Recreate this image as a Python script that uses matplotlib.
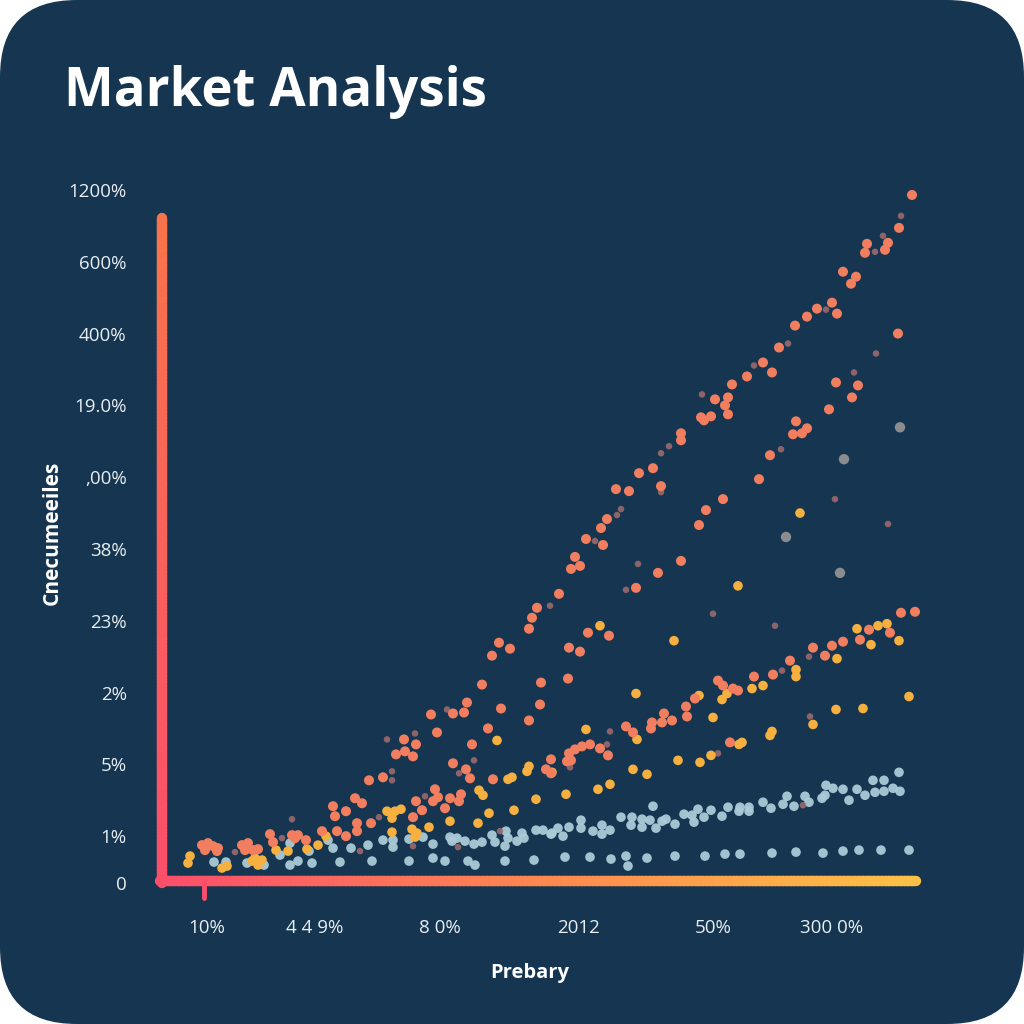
import numpy as np
import matplotlib
matplotlib.use("Agg")
import matplotlib.pyplot as plt
from matplotlib.patches import FancyBboxPatch
from matplotlib.collections import LineCollection
from matplotlib.colors import LinearSegmentedColormap

# ---------------- data ----------------
title = "Market Analysis"
x_label = "Prebary"
y_label = "Cnecumeeiles"

y_tick_pos = [693, 621, 549, 477, 405, 333, 261, 189, 117, 45, -2]
y_tick_labels = ["1200%", "600%", "400%", "19.0%", ",00%", "38%", "23%", "2%", "5%", "1%", "0"]
x_tick_pos = [47, 155, 280, 418, 553, 672]
x_tick_labels = ["10%", "4 4 9%", "8 0%", "2012", "50%", "300 0%"]

coral_x = [752, 739, 707, 728, 705, 725, 683, 696, 691, 672, 677, 657, 647, 635, 619, 603, 612, 587, 572, 555,
           568, 565, 568, 541, 544, 551, 521, 521, 493, 479, 501, 456, 469, 447, 441, 426, 443, 415, 420, 411,
           399, 377, 372, 369, 339, 350, 332, 322, 307, 304, 293, 271, 277, 244, 256, 245, 236, 253, 223, 209,
           195, 202, 186, 173, 175, 197, 197, 211, 186, 177, 162, 146, 132, 135, 138, 110, 113, 82, 88, 85,
           93, 98, 42, 48, 45, 53, 57, 58,
           738, 676, 698, 692, 669, 636, 647, 633, 642, 610, 599, 563, 546, 539, 498, 521, 476, 449, 428, 409,
           420, 408, 381, 380, 369, 341, 328, 312, 293, 306, 310, 333, 275, 278, 273, 256, 290, 299, 301, 285,
           262, 253,
           741, 755, 709, 730, 700, 683, 672, 665, 653, 630, 613, 594, 578, 573, 563, 558, 535, 526, 527, 504,
           512, 502, 492, 491, 466, 473, 440, 430, 448, 422, 415, 409, 407, 391, 386, 391, 411, 570]
coral_y = [688, 655, 639, 640, 630, 633, 611, 606, 599, 580, 569, 574, 566, 557, 535, 520, 510, 506, 498, 483,
           485, 477, 468, 465, 462, 466, 449, 442, 414, 409, 396, 393, 391, 363, 354, 343, 337, 325, 316, 313,
           288, 274, 264, 253, 239, 233, 226, 197, 179, 169, 168, 167, 149, 142, 137, 130, 127, 125, 104, 101,
           83, 78, 70, 75, 65, 58, 50, 58, 45, 50, 50, 41, 46, 43, 46, 47, 39, 36, 38, 31,
           31, 32, 36, 38, 31, 35, 30, 33,
           549, 500, 497, 485, 473, 461, 454, 448, 449, 427, 403, 383, 372, 357, 309, 321, 294, 246, 249, 234,
           230, 203, 199, 177, 161, 173, 153, 137, 118, 112, 103, 102, 92, 84, 80, 80, 83, 80, 87, 73,
           71, 64,
           269, 270, 252, 249, 242, 240, 236, 226, 234, 221, 207, 205, 191, 193, 196, 201, 183, 175, 165, 168,
           161, 159, 159, 153, 155, 149, 133, 137, 126, 135, 132, 128, 120, 122, 112, 108, 121, 139]

yellow_x = [640, 578, 440, 514, 476, 697, 718, 727, 739, 711, 677, 636, 636, 603, 592, 567, 562, 749, 676, 703,
            653, 539, 553, 477, 426, 392, 612, 610, 582, 579, 551, 540, 518, 473, 487, 450, 438, 406, 337, 369,
            367, 348, 352, 319, 323, 376, 354, 329, 290, 318, 269, 227, 235, 241, 232, 232, 252, 255, 257, 30,
            28, 62, 67, 95, 92, 102, 98, 116, 128, 147, 158, 166]
yellow_y = [369, 296, 256, 241, 188, 253, 256, 258, 241, 237, 223, 212, 205, 196, 193, 188, 182, 185, 172, 173,
            157, 186, 164, 142, 152, 109, 150, 146, 139, 137, 126, 119, 121, 112, 107, 97, 92, 87, 141, 115,
            110, 102, 104, 91, 86, 82, 71, 68, 60, 58, 54, 70, 70, 72, 63, 49, 52, 44, 48, 25,
            18, 13, 15, 23, 20, 21, 16, 31, 30, 32, 36, 45]

blue_x = [739, 724, 713, 733, 740, 724, 715, 705, 697, 689, 683, 673, 666, 665, 662, 649, 645, 634, 627, 623,
          611, 603, 589, 580, 589, 579, 568, 562, 551, 544, 538, 534, 532, 524, 515, 506, 502, 496, 493, 490,
          482, 482, 471, 472, 461, 450, 442, 442, 433, 421, 421, 409, 403, 398, 392, 391, 383, 376, 364, 362,
          357, 348, 346, 345, 335, 332, 322, 314, 305, 297, 292, 290, 273, 263, 249, 233, 233, 223, 208, 212,
          191, 180, 173, 168, 152, 149, 138, 130, 130, 120, 104, 87, 66, 54,
          749, 721, 699, 683, 663, 636, 612, 580, 565, 545, 515, 487, 466, 468, 451, 430, 405, 374, 345, 315,
          308, 285, 273, 249]
blue_y = [109, 101, 101, 93, 90, 90, 89, 86, 92, 81, 92, 93, 96, 86, 83, 79, 85, 75, 85, 77,
          73, 79, 74, 74, 70, 70, 74, 65, 71, 64, 72, 59, 66, 67, 57, 62, 60, 53, 75, 61,
          54, 62, 56, 64, 64, 51, 47, 56, 50, 53, 61, 54, 45, 53, 48, 47, 51, 51, 43, 48,
          40, 43, 50, 35, 39, 46, 39, 37, 40, 43, 40, 44, 37, 44, 42, 34, 41, 41, 36, 20,
          33, 19, 33, 41, 18, 30, 20, 16, 38, 26, 16, 18, 19, 19,
          31, 31, 31, 30, 28, 29, 28, 27, 27, 25, 25, 23, 25, 15, 22, 24, 24, 21, 20, 16,
          20, 20, 23, 20]

gray_big_x = [626, 680, 684, 740]
gray_big_y = [345, 309, 423, 455]

muted_x = [741, 723, 715, 666, 628, 594, 542, 509, 501, 501, 457, 461, 435, 390, 478, 466, 621, 694, 716, 675,
           728, 553, 615, 649, 622, 650, 558, 450, 447, 410, 287, 314, 299, 227, 255, 232, 232, 265, 253, 298,
           340, 200, 219, 132, 122, 75, 643]
muted_y = [667, 647, 631, 573, 539, 517, 488, 436, 429, 390, 367, 373, 341, 276, 318, 292, 433, 510, 529, 383,
           358, 268, 256, 225, 211, 165, 128, 150, 137, 114, 172, 121, 108, 142, 148, 110, 101, 85, 35, 34,
           50, 30, 64, 62, 43, 29, 76]

# ---------------- style ----------------
BG = "#153550"
CORAL = "#f17e5f"
YELLOW = "#f6b040"
BLUE = "#abcbd8"
GRAY = "#8a8c90"
MUTED = "#9b6a6e"
TXT = "#e8eef2"

plt.rcParams["font.family"] = ["Open Sans", "DejaVu Sans"]

fig = plt.figure(figsize=(10.24, 10.24), dpi=100, facecolor="white")
bg = FancyBboxPatch((0, 0), 1, 1, boxstyle="round,pad=0,rounding_size=0.075",
                    transform=fig.transFigure, facecolor=BG, edgecolor="none", zorder=-10)
fig.patches.append(bg)

W = 1024.0
ax = fig.add_axes([160 / W, (W - 883) / W, 760 / W, 700 / W])
ax.set_zorder(5)
ax.set_facecolor("none")
ax.set_xlim(0, 760)
ax.set_ylim(0, 700)
for s in ax.spines.values():
    s.set_visible(False)

# gradient spines
cm_y = LinearSegmentedColormap.from_list("gy", ["#fb4e6b", "#f7744b"])
cm_x = LinearSegmentedColormap.from_list("gx", ["#fb4e6b", "#fd8750", "#fdc046"])
n = 200
yy = np.linspace(-2, 665, n)
seg_y = [[(2, yy[i]), (2, yy[i + 1])] for i in range(n - 1)]
lc_y = LineCollection(seg_y, colors=cm_y(np.linspace(0, 1, n - 1)), linewidths=7.5,
                      capstyle="round", clip_on=False, zorder=5)
ax.add_collection(lc_y)
xx = np.linspace(0, 756, n)
seg_x = [[(xx[i], 0), (xx[i + 1], 0)] for i in range(n - 1)]
lc_x = LineCollection(seg_x, colors=cm_x(np.linspace(0, 1, n - 1)), linewidths=7.5,
                      capstyle="round", clip_on=False, zorder=5)
ax.add_collection(lc_x)
ax.plot([44, 44], [0, -17], color="#fb4e6b", lw=3.5, solid_capstyle="round", clip_on=False, zorder=5)

# scatter
ax.scatter(blue_x, blue_y, s=48, color=BLUE, edgecolors="none", alpha=0.95, zorder=3, clip_on=False)
ax.scatter(muted_x, muted_y, s=22, color=MUTED, edgecolors="none", alpha=0.9, zorder=3, clip_on=False)
ax.scatter(gray_big_x, gray_big_y, s=56, color=GRAY, edgecolors="none", zorder=3, clip_on=False)
ax.scatter(yellow_x, yellow_y, s=48, color=YELLOW, edgecolors="none", zorder=4, clip_on=False)
ax.scatter(coral_x, coral_y, s=52, color=CORAL, edgecolors="none", zorder=4, clip_on=False)

# ticks
ax.set_yticks(y_tick_pos)
ax.set_yticklabels(y_tick_labels)
ax.set_xticks(x_tick_pos)
ax.set_xticklabels(x_tick_labels)
ax.tick_params(axis="y", length=0, pad=24, labelsize=13.5, labelcolor=TXT)
ax.tick_params(axis="x", length=0, pad=26, labelsize=13.5, labelcolor=TXT)

fig.text(530 / W, 1 - 973 / W, x_label, ha="center", va="center", fontsize=14.5,
         fontweight="bold", color="white")
fig.text(52 / W, 1 - 533 / W, y_label, ha="center", va="center", rotation=90, fontsize=15,
         fontweight="bold", color="white")
fig.text(64 / W, 1 - 92 / W, title, ha="left", va="center", fontsize=38,
         fontweight="bold", color="white")

fig.savefig("out.png", dpi=100, facecolor="white")
